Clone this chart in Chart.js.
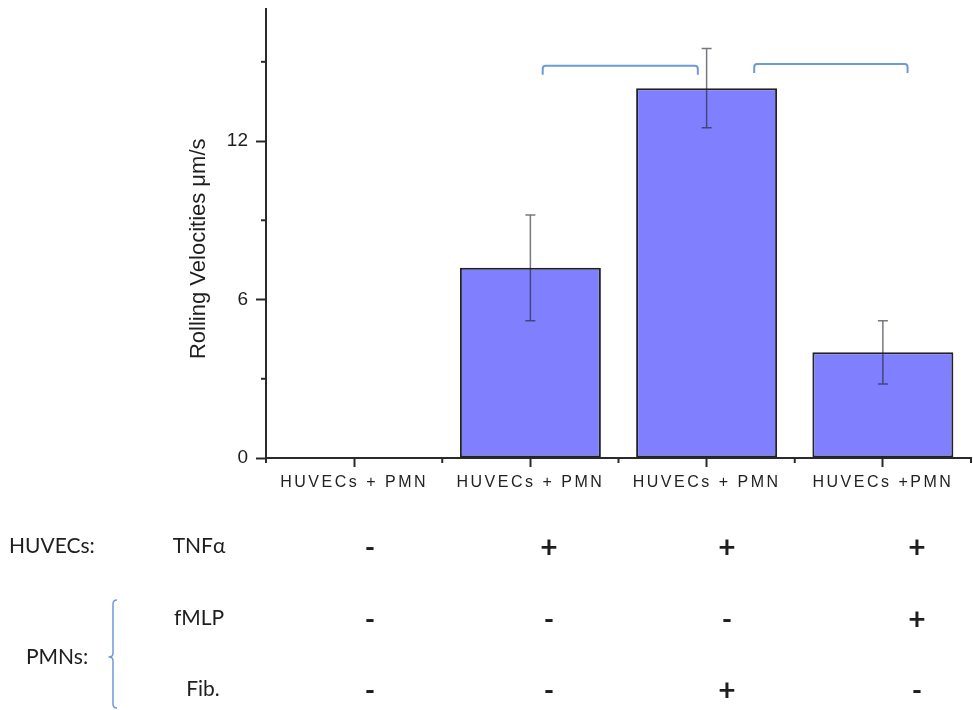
<!DOCTYPE html>
<html>
<head>
<meta charset="utf-8">
<script src="https://cdn.jsdelivr.net/npm/chart.js@4"></script>
<style>
  html, body { margin: 0; padding: 0; background: #fff; }
  canvas { display: block; }
</style>
</head>
<body>
<canvas id="velChart" width="973" height="710"></canvas>
<script>
// data
const labels = ['HUVECs + PMN', 'HUVECs + PMN', 'HUVECs + PMN', 'HUVECs +PMN'];
const velocities = [0, 7.2, 14.0, 4.0];
const errors = [0, 2.0, 1.5, 1.2];
const yTicksShown = [0, 6, 12];

// treatment table under the chart
const rowNames = ['TNFα', 'fMLP', 'Fib.'];
const tnfa = ['-', '+', '+', '+'];
const fmlp = ['-', '-', '-', '+'];
const fib = ['-', '-', '+', '-'];

// significance brackets (category index from / to, y value)
const bracketFrom = [1.07, 2.27];
const bracketTo = [1.95, 3.14];
const bracketY = [14.85, 14.92];

const axisColor = '#2a2a2a';
const bracketColor = '#6c9ad6';

const errorBars = {
    id: 'errorBars',
    afterDatasetsDraw(chart) {
        const ctx = chart.ctx;
        const x = chart.scales.x, y = chart.scales.y;
        ctx.save();
        ctx.strokeStyle = 'rgba(30,30,40,0.6)';
        ctx.lineWidth = 1.5;
        velocities.forEach((v, i) => {
            if (!errors[i]) return;
            const px = x.getPixelForValue(i);
            const top = y.getPixelForValue(v + errors[i]);
            const bot = y.getPixelForValue(v - errors[i]);
            ctx.beginPath();
            ctx.moveTo(px, top); ctx.lineTo(px, bot);
            ctx.moveTo(px - 5, top); ctx.lineTo(px + 5, top);
            ctx.moveTo(px - 5, bot); ctx.lineTo(px + 5, bot);
            ctx.stroke();
        });
        ctx.restore();
        // spaced-out letters for the x labels (their layer draws after this hook)
        ctx.letterSpacing = '2.5px';
    }
};

const extras = {
    id: 'extras',
    afterDraw(chart) {
        const ctx = chart.ctx;
        const x = chart.scales.x, y = chart.scales.y;
        ctx.letterSpacing = '0px';
        ctx.save();

        // minor y ticks
        ctx.strokeStyle = axisColor;
        ctx.lineWidth = 2;
        [3, 9, 15].forEach(v => {
            const py = y.getPixelForValue(v);
            ctx.beginPath();
            ctx.moveTo(x.left - 5, py); ctx.lineTo(x.left, py);
            ctx.stroke();
        });
        // short x ticks at category boundaries
        for (let i = 0; i <= labels.length; i++) {
            const px = x.getPixelForValue(i - 0.5);
            ctx.beginPath();
            ctx.moveTo(px, y.bottom); ctx.lineTo(px, y.bottom + 5);
            ctx.stroke();
        }

        // brackets
        ctx.strokeStyle = bracketColor;
        ctx.lineWidth = 2;
        ctx.lineJoin = 'round';
        bracketFrom.forEach((f, i) => {
            const x1 = x.getPixelForValue(f), x2 = x.getPixelForValue(bracketTo[i]);
            const py = y.getPixelForValue(bracketY[i]);
            ctx.beginPath();
            ctx.moveTo(x1, py + 9);
            ctx.lineTo(x1, py + 3);
            ctx.quadraticCurveTo(x1, py, x1 + 3, py);
            ctx.lineTo(x2 - 3, py);
            ctx.quadraticCurveTo(x2, py, x2, py + 3);
            ctx.lineTo(x2, py + 9);
            ctx.stroke();
        });

        // table
        const rowY = [548, 620, 691];
        const colX = [370, 549, 727, 917];
        ctx.fillStyle = '#1e1e1e';
        ctx.textBaseline = 'middle';
        ctx.font = '21px Lato, "Noto Sans", sans-serif';
        ctx.textAlign = 'left';
        ctx.fillText('HUVECs:', 9, 546);
        ctx.fillText('PMNs:', 26, 657);
        ctx.textAlign = 'center';
        const nameX = [199, 199, 203];
        rowNames.forEach((n, r) => ctx.fillText(n, nameX[r], rowY[r] - 2));
        [tnfa, fmlp, fib].forEach((row, r) => {
            row.forEach((s, c) => {
                ctx.font = s === '+' ? 'bold 30px Lato, sans-serif' : 'bold 28px Lato, sans-serif';
                ctx.fillText(s, colX[c], rowY[r]);
            });
        });

        // brace for PMNs
        ctx.strokeStyle = bracketColor;
        ctx.lineWidth = 1.5;
        ctx.beginPath();
        ctx.moveTo(117, 600);
        ctx.quadraticCurveTo(113, 600, 113, 604);
        ctx.lineTo(113, 653);
        ctx.quadraticCurveTo(113, 657, 109, 657);
        ctx.quadraticCurveTo(113, 657, 113, 661);
        ctx.lineTo(113, 704);
        ctx.quadraticCurveTo(113, 708, 117, 708);
        ctx.stroke();

        ctx.restore();
    }
};

new Chart(document.getElementById('velChart'), {
    type: 'bar',
    data: {
        labels: labels,
        datasets: [{
            data: velocities,
            backgroundColor: '#8080ff',
            borderColor: '#222',
            borderWidth: 2,
            borderSkipped: false,
            barPercentage: 0.8,
            categoryPercentage: 1.0
        }]
    },
    options: {
        responsive: false,
        animation: false,
        devicePixelRatio: 1,
        layout: { padding: { top: 9, right: 2, bottom: 212, left: 0 } },
        plugins: { legend: { display: false }, tooltip: { enabled: false } },
        scales: {
            x: {
                offset: true,
                grid: { offset: false, drawOnChartArea: false, tickLength: 9, tickWidth: 2, tickColor: axisColor },
                border: { color: axisColor, width: 2 },
                ticks: {
                    z: 1,
                    autoSkip: false, maxRotation: 0, padding: 6, color: '#222',
                    font: { family: 'Liberation Sans, Arial, sans-serif', size: 16 }
                },
                afterFit(scale) { scale.height = 40; }
            },
            y: {
                min: 0,
                max: 17,
                grid: {
                    drawOnChartArea: false, tickLength: 10, tickWidth: 2,
                    tickColor: c => yTicksShown.includes(c.tick.value) ? axisColor : 'transparent'
                },
                border: { color: axisColor, width: 2 },
                ticks: {
                    stepSize: 3, padding: 8, color: '#1e1e1e',
                    font: { family: 'Liberation Sans, Arial, sans-serif', size: 19 },
                    callback: v => yTicksShown.includes(v) ? v : ''
                },
                title: {
                    display: true,
                    text: 'Rolling Velocities μm/s     ',
                    color: '#1e1e1e',
                    padding: { top: 186, bottom: 0 },
                    font: { family: 'Liberation Sans, Arial, sans-serif', size: 22 }
                },
                afterFit(scale) {
                    scale.width = 266;
                    scale.paddingTop = 0;
                    scale.paddingBottom = 0;
                }
            }
        }
    },
    plugins: [errorBars, extras]
});
</script>
</body>
</html>
